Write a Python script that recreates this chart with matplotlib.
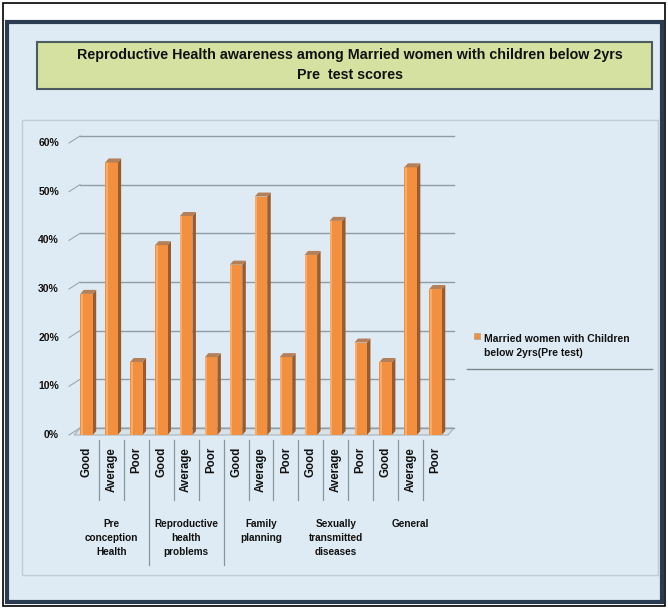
import matplotlib
matplotlib.use("Agg")
import matplotlib.pyplot as plt
from matplotlib.patches import Rectangle, Polygon

# ---- data -------------------------------------------------------------
groups = ["Pre\nconception\nHealth", "Reproductive\nhealth\nproblems",
          "Family\nplanning", "Sexually\ntransmitted\ndiseases", "General"]
levels = ["Good", "Average", "Poor"]
pretest = [29, 56, 15, 39, 45, 16, 35, 49, 16, 37, 44, 19, 15, 55, 30]
y_ticks = [0, 10, 20, 30, 40, 50, 60]
series_name = "Married women with Children\nbelow 2yrs(Pre test)"
title = ("Reproductive Health awareness among Married women with children below 2yrs\n"
         "Pre  test scores")

SANS = ["Liberation Sans", "DejaVu Sans"]

FRONT = "#f2903f"
SIDE = "#9a5c2c"
TOP = "#b58058"
HILITE = "#f8ac6c"

W, H = 668, 609
fig = plt.figure(figsize=(W / 100, H / 100), dpi=100)
fig.patch.set_facecolor("white")


def box(x0, y0, x1, y1):
    """pixel box (top-left origin) -> figure-fraction rect"""
    return [x0 / W, 1 - y1 / H, (x1 - x0) / W, (y1 - y0) / H]


# ---- frame, chart area, title box --------------------------------------
bg = fig.add_axes([0, 0, 1, 1])
bg.set_xlim(0, W)
bg.set_ylim(H, 0)
bg.axis("off")
bg.add_patch(Rectangle((3, 3), 662, 603, fill=False, ec="black", lw=1.2))
bg.add_patch(Rectangle((7, 22), 655, 580, fc="#deebf4", ec="#2a3c52", lw=3))
bg.add_patch(Rectangle((22, 120), 636, 455, fc="none", ec="#c4ccd3", lw=1))
bg.add_patch(Rectangle((37, 42), 615, 47, fc="#d4e1a0", ec="#4b5b60", lw=1.5))
bg.text(350, 65, title, ha="center", va="center", fontsize=10.3,
        fontweight="bold", family=SANS, linespacing=1.55, color="#111111")

# legend
bg.add_patch(Rectangle((474, 333), 6, 6, fc=FRONT, ec="#b7a98a", lw=0.6))
bg.text(484, 346, series_name, ha="left", va="center", fontsize=7.5,
        fontweight="bold", family=SANS, linespacing=1.6, color="#111111")
bg.plot([467, 652], [369, 369], color="#7d868c", lw=1)

# ---- plot ---------------------------------------------------------------
L, R, T, B = 74, 448, 143, 435
ax = fig.add_axes(box(L, T, R, B))
n = len(pretest)
ax.set_xlim(-0.5, n - 0.5)
ax.set_ylim(0, 60)
ax.axis("off")
ax.patch.set_alpha(0)

ux = (R - L) / n          # pixels per category
uy = (B - T) / 60.0       # pixels per percent
WX, WY = 6 / ux, 7 / uy   # depth of the back wall
BX, BY = 3.5 / ux, 4 / uy # depth of each column

# floor
ax.add_patch(Polygon([(-0.5, 0), (n - 0.5, 0), (n - 0.5 + WX, WY), (-0.5 + WX, WY)],
                     closed=True, fc="#d6e1e8", ec="#a8b4bc", lw=0.8, clip_on=False))

# back-wall gridlines, ticks and labels
for t in y_ticks:
    ax.plot([-0.5 + WX, n - 0.5 + WX], [t + WY, t + WY], color="#8d9ea7",
            lw=1, clip_on=False, zorder=1)
    ax.plot([-0.5 - 5 / ux, -0.5 + WX], [t, t + WY], color="#9aa7ae",
            lw=0.8, clip_on=False, zorder=1)
    ax.text(-0.5 - 15 / ux, t, f"{t}%", ha="right", va="center", fontsize=7.5,
            fontweight="bold", family=SANS, color="#111111")

# columns
xs = list(range(n))
bw = 0.5
ax.bar(xs, pretest, width=bw, color=FRONT, edgecolor="none", zorder=3)
ax.bar([x - bw / 2 + 0.06 for x in xs], pretest, width=0.08, color=HILITE,
       edgecolor="none", zorder=3.1)
for x, v in zip(xs, pretest):
    r = x + bw / 2
    l = x - bw / 2
    ax.add_patch(Polygon([(r, 0), (r + BX, BY), (r + BX, v + BY), (r, v)],
                         closed=True, fc=SIDE, ec="none", zorder=2.9, clip_on=False))
    ax.add_patch(Polygon([(l, v), (r, v), (r + BX, v + BY), (l + BX, v + BY)],
                         closed=True, fc=TOP, ec="none", zorder=3.2, clip_on=False))

# category tick labels
for i in xs:
    ax.text(i, -12 / uy, levels[i % 3], rotation=90, ha="center", va="top",
            fontsize=8.3, fontweight="bold", family=SANS, color="#111111")

# separators between categories and groups
for k in range(1, n):
    long_line = k in (3, 6)
    y1 = -130 / uy if long_line else -65 / uy
    ax.plot([k - 0.5, k - 0.5], [-5 / uy, y1], color="#8a969e", lw=0.9,
            clip_on=False)

# group labels
for g, name in enumerate(groups):
    ax.text(3 * g + 1, -84 / uy, name, ha="center", va="top", fontsize=7.2,
            fontweight="bold", family=SANS, linespacing=1.5, color="#111111")

fig.savefig("out.png", dpi=100, facecolor=fig.get_facecolor())
